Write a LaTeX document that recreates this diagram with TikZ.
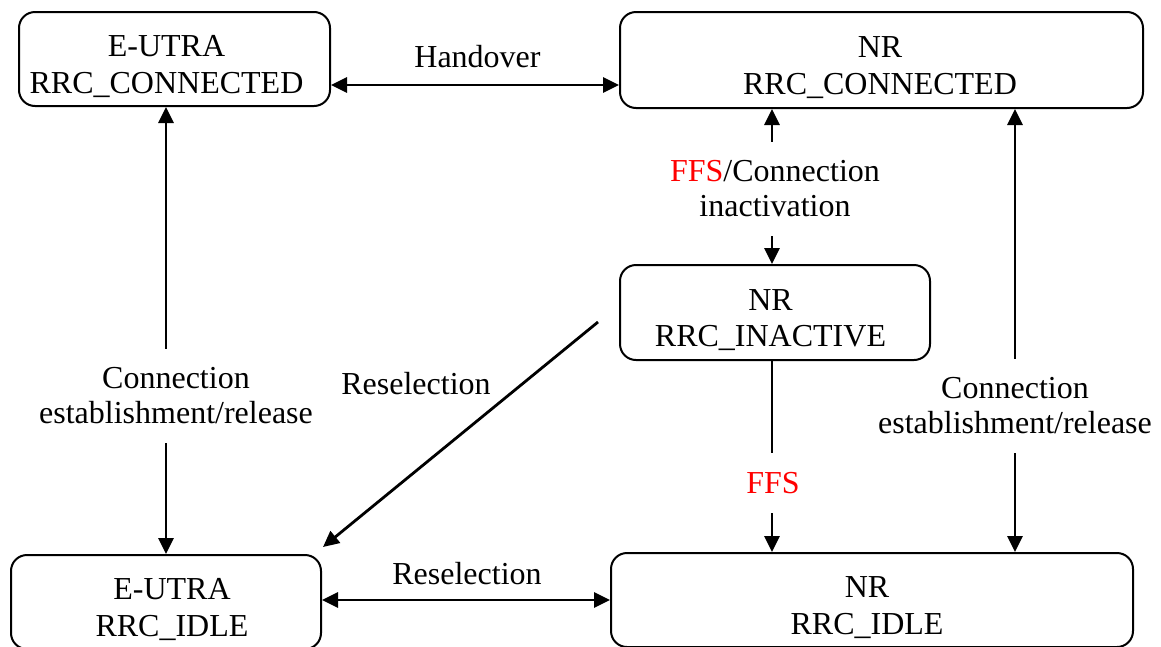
\documentclass[tikz,border=0pt]{standalone}
\usepackage{fontspec}
\setmainfont{Liberation Serif}
\usetikzlibrary{arrows.meta}
\pgfdeclarelayer{background}
\pgfsetlayers{background,main}
\newcommand{\toprule}{\rule{0pt}{36.5pt}}
\begin{document}
\begin{tikzpicture}[x=1pt,y=-1pt,
  every node/.style={font=\fontsize{32}{35}\selectfont},
  box/.style={draw, line width=2pt, rounded corners=16pt, align=center, inner sep=0pt,
    font=\fontsize{32}{36.5}\selectfont},
  lbl/.style={fill=white, align=center, inner xsep=2pt, inner ysep=19pt},
  txt/.style={align=center, inner sep=0pt},
  arr/.style={line width=2.8pt, -{Triangle[length=16pt,width=15pt]}},
  dbl/.style={line width=2.8pt, {Triangle[length=16pt,width=15pt]}-{Triangle[length=16pt,width=15pt]}}]
\clip (0,0) rectangle (1161,646);
% states
\node[box, minimum width=311pt, minimum height=94pt] (ec) at (174.5,59)
  {\toprule E-UTRA\hspace*{16pt}\\RRC\_CONNECTED\hspace*{16pt}};
\node[box, minimum width=523pt, minimum height=96pt] (nc) at (881.5,60)
  {\toprule NR\hspace*{3pt}\\RRC\_CONNECTED\hspace*{3pt}};
\node[box, minimum width=310pt, minimum height=95pt] (ni) at (775,312.5)
  {\toprule NR\hspace*{9pt}\\RRC\_INACTIVE\hspace*{9pt}};
\node[box, minimum width=310pt, minimum height=94pt] (ei) at (166,602)
  {\toprule\hspace*{12pt}E-UTRA\\\hspace*{12pt}RRC\_IDLE};
\node[box, minimum width=522pt, minimum height=94pt] (nid) at (872,600)
  {\toprule NR\hspace*{10pt}\\RRC\_IDLE\hspace*{10pt}};
% helper coordinates
\coordinate (rx) at (1015,0);
\coordinate (rs) at (598,322);
\begin{pgfonlayer}{background}
% Handover
\draw[dbl] ([yshift=-26pt]ec.east) -- ([yshift=-25pt]nc.west);
\node[txt] (lho) at (477.5,57) {Handover};
% E-UTRA connected <-> idle
\draw[dbl] (ei.north |- ec.south) -- (ei.north);
\node[lbl] (lel) at (176,396) {Connection\\establishment/release};
% NR connected <-> inactive
\draw[dbl] ([xshift=-3pt]ni.north |- nc.south) -- ([xshift=-3pt]ni.north);
\node[lbl] (lin) at (775,189) {\textcolor{red}{FFS}/Connection\\inactivation};
% NR inactive -> idle
\draw[arr] ([xshift=-3pt]ni.south) -- ([xshift=-3pt]ni.south |- nid.north);
\node[lbl] (lffs) at (773,483) {\textcolor{red}{FFS}};
% NR connected <-> idle
\draw[dbl] (nc.south -| rx) -- (nid.north -| rx);
\node[lbl] (lnr) at (1015,406) {Connection\\establishment/release};
% Reselection diagonal
\draw[arr] (rs) -- ([xshift=1pt,yshift=7pt]ei.north east);
\node[txt] (lrs1) at (416,384) {Reselection};
% Reselection horizontal
\draw[dbl] ([yshift=2pt]ei.east) -- (nid.west);
\node[txt] (lrs2) at (467,574) {Reselection};
\end{pgfonlayer}
\end{tikzpicture}
\end{document}
